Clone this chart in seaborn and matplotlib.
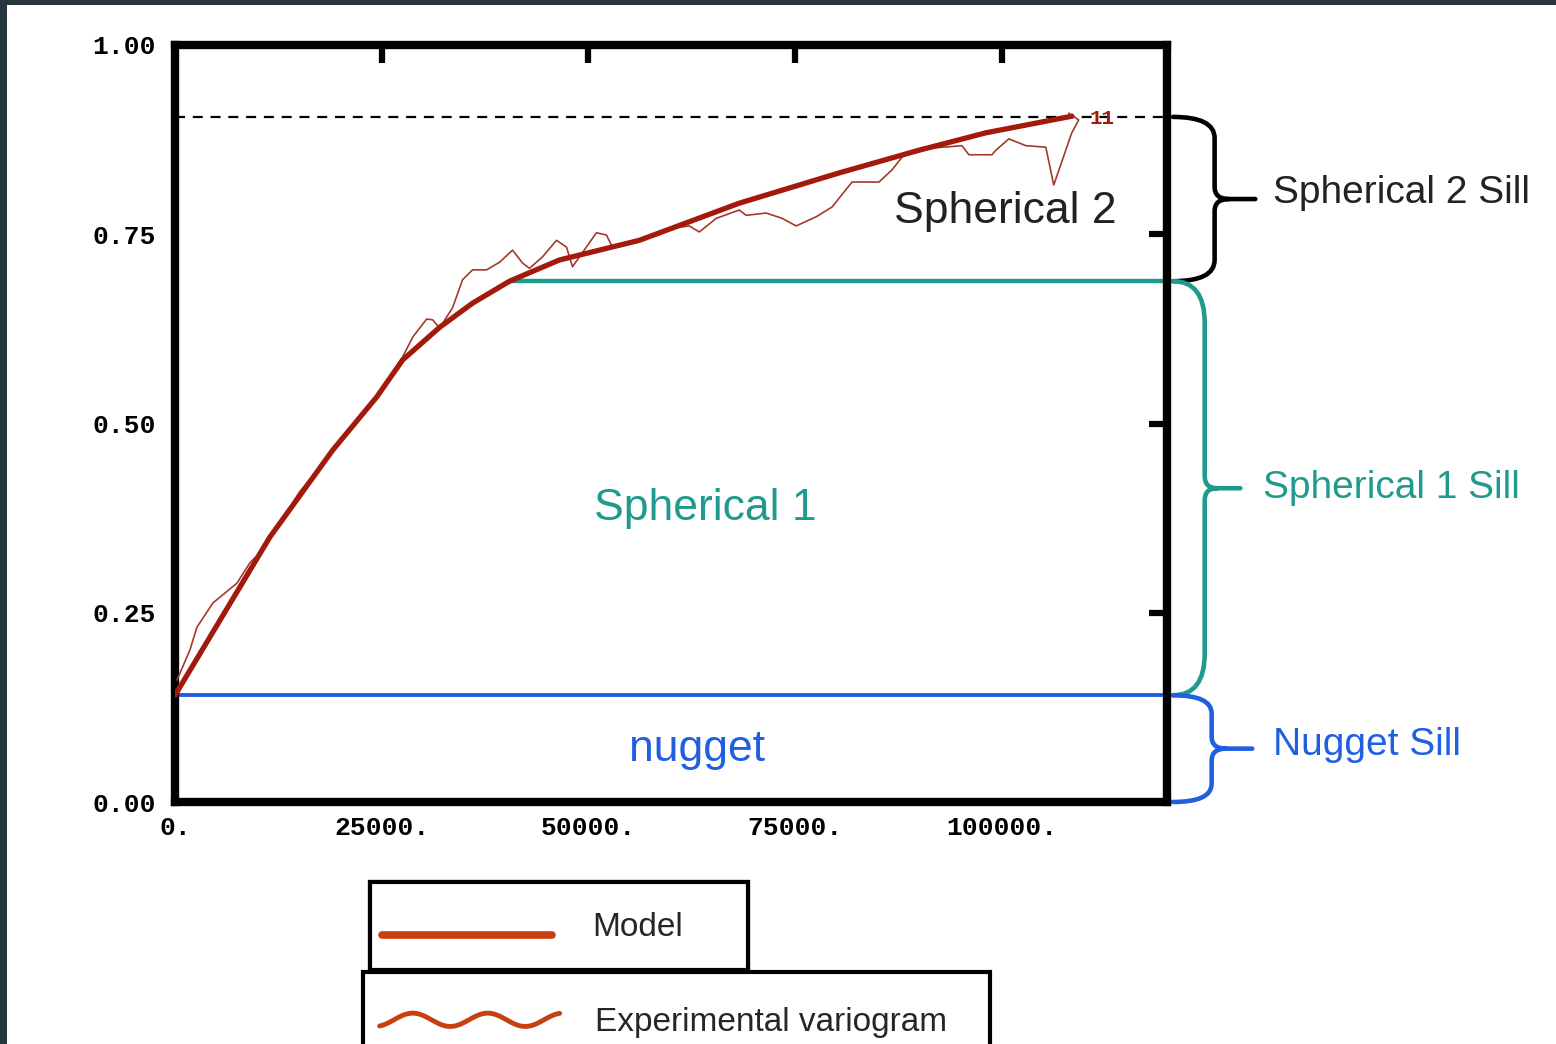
import numpy as np
import pandas as pd
import matplotlib
matplotlib.use("Agg")
import matplotlib.pyplot as plt
import matplotlib.transforms as mtransforms
from matplotlib.path import Path
from matplotlib.patches import PathPatch, Rectangle
from matplotlib.lines import Line2D
from matplotlib.legend_handler import HandlerLine2D
from matplotlib.ticker import FuncFormatter
import seaborn as sns

# model variogram (lag, gamma)
model_lag = [0, 11480, 19090, 24400, 27540, 32010, 36000, 40470, 46500,
             56170, 68250, 80330, 90000, 98090, 108500]
model_gamma = [0.141, 0.350, 0.465, 0.535, 0.584, 0.627, 0.659, 0.688, 0.716,
               0.742, 0.791, 0.831, 0.861, 0.884, 0.906]

# experimental variogram
exp_lag = [240, 1810, 2660, 4590, 7490, 9060, 10630, 15100, 19090, 22950, 25970,
           27540, 28750, 30440, 31170, 32010, 33580, 34790, 36000, 37690, 39260,
           40830, 42040, 42880, 44450, 46150, 47360, 48080, 50980, 52190, 52910,
           56170, 58230, 60160, 62210, 63420, 65470, 68250, 69100, 71510, 73450,
           75140, 77550, 79480, 81900, 85160, 86730, 88180, 91800, 95190, 96040,
           98810, 99300, 100870, 102920, 105340, 106300, 108480, 109320, 108120]
exp_gamma = [0.161, 0.201, 0.231, 0.263, 0.289, 0.316, 0.333, 0.410, 0.462, 0.515, 0.560,
             0.588, 0.614, 0.638, 0.637, 0.626, 0.653, 0.690, 0.703, 0.703, 0.713,
             0.729, 0.712, 0.705, 0.720, 0.742, 0.733, 0.707, 0.752, 0.749, 0.733,
             0.742, 0.748, 0.758, 0.761, 0.753, 0.771, 0.782, 0.775, 0.778, 0.771,
             0.761, 0.773, 0.786, 0.819, 0.819, 0.835, 0.855, 0.864, 0.867, 0.855,
             0.855, 0.861, 0.876, 0.867, 0.865, 0.815, 0.884, 0.901, 0.910]

nugget_sill = 0.141
sph1_sill = 0.688
sph1_range = 40470
total_sill = 0.905
x_max = 120000
x_ticks = [0, 25000, 50000, 75000, 100000]
y_ticks = [0.0, 0.25, 0.5, 0.75, 1.0]

RED = "#a3190c"
EXP_RED = "#a5392b"
TEAL = "#1f9a8c"
BLUE = "#1f5fe0"
LEG_RED = "#c8400f"

sns.set_style("white")
plt.rcParams["font.family"] = ["Liberation Sans", "DejaVu Sans"]

fig = plt.figure(figsize=(15.56, 10.44), dpi=100)
fig.patch.set_facecolor("#25373d")
fig.add_artist(Rectangle((7 / 1556, 0), 1, 1 - 5 / 1044, transform=fig.transFigure,
                         facecolor="white", edgecolor="none", zorder=-10))

ax = fig.add_axes([175 / 1556, 1 - 802 / 1044, 992 / 1556, 757 / 1044])
ax.set_facecolor("white")

df_model = pd.DataFrame({"lag": model_lag, "gamma": model_gamma})
df_exp = pd.DataFrame({"lag": exp_lag, "gamma": exp_gamma})

ax.axhline(total_sill, color="black", lw=1.6, ls=(0, (4.5, 3.5)), zorder=1)
ax.hlines(sph1_sill, sph1_range, x_max, color=TEAL, lw=3.2, zorder=2)
ax.hlines(nugget_sill, 0, x_max, color=BLUE, lw=2.8, zorder=2)
sns.lineplot(data=df_exp, x="lag", y="gamma", ax=ax, color=EXP_RED, lw=1.2,
             sort=False, estimator=None, zorder=3)
sns.lineplot(data=df_model, x="lag", y="gamma", ax=ax, color=RED, lw=3.8,
             sort=False, estimator=None, zorder=4)

ax.set_xlim(0, x_max)
ax.set_ylim(0, 1)
ax.set_xlabel("")
ax.set_ylabel("")
ax.set_xticks(x_ticks)
ax.set_yticks(y_ticks)
ax.xaxis.set_major_formatter(FuncFormatter(lambda v, p: f"{int(v)}."))
ax.yaxis.set_major_formatter(FuncFormatter(lambda v, p: f"{v:.2f}"))
ax.tick_params(direction="in", length=13, width=4.5, top=True, right=True,
               labelsize=19, colors="black")
ax.tick_params(axis="x", pad=10)
ax.tick_params(axis="y", pad=14)
for lab in ax.get_xticklabels() + ax.get_yticklabels():
    lab.set_family(["Liberation Mono", "DejaVu Sans Mono"])
    lab.set_fontweight("bold")
for s in ax.spines.values():
    s.set_linewidth(6)
    s.set_color("black")

ax.text(110600, 0.903, "11", color=RED, fontsize=15, fontweight="bold",
        family=["Liberation Mono", "DejaVu Sans Mono"], va="center", ha="left")

# in-plot labels
ax.text(100400, 0.780, "Spherical 2", color="#222222", fontsize=32, ha="center", va="center")
ax.text(64150, 0.388, "Spherical 1", color=TEAL, fontsize=32, ha="center", va="center")
ax.text(63200, 0.069, "nugget", color=BLUE, fontsize=32, ha="center", va="center")

# braces at the right of the frame
trans = mtransforms.blended_transform_factory(ax.transAxes, ax.transData)


def brace(y_top, y_bot, x0, x1, x_stub, r, color):
    ym = (y_top + y_bot) / 2
    r2 = 0.016
    verts = [(x0, y_top), (x1, y_top), (x1, y_top - r),
             (x1, ym + r2),
             (x1, ym), (x1 + (x_stub - x1) * 0.35, ym),
             (x_stub, ym),
             (x1 + (x_stub - x1) * 0.35, ym), (x1, ym), (x1, ym - r2),
             (x1, y_bot + r),
             (x1, y_bot), (x0, y_bot)]
    codes = [Path.MOVETO, Path.CURVE3, Path.CURVE3,
             Path.LINETO,
             Path.CURVE3, Path.CURVE3,
             Path.LINETO,
             Path.MOVETO, Path.CURVE3, Path.CURVE3,
             Path.LINETO,
             Path.CURVE3, Path.CURVE3]
    ax.add_patch(PathPatch(Path(verts, codes), transform=trans, fill=False,
                           edgecolor=color, lw=3.3, clip_on=False, capstyle="round"))


brace(total_sill, sph1_sill, 1.006, 1.048, 1.089, 0.028, "black")
brace(sph1_sill, nugget_sill, 1.006, 1.038, 1.074, 0.055, TEAL)
brace(nugget_sill, 0.0, 1.006, 1.045, 1.086, 0.024, BLUE)

ax.text(1.107, 0.804, "Spherical 2 Sill", transform=trans, color="#222222",
        fontsize=28, va="center", ha="left")
ax.text(1.097, 0.415, "Spherical 1 Sill", transform=trans, color=TEAL,
        fontsize=28, va="center", ha="left")
ax.text(1.107, 0.075, "Nugget Sill", transform=trans, color=BLUE,
        fontsize=28, va="center", ha="left")


# legend boxes below the plot
class HandlerSample(HandlerLine2D):
    # legend sample line placed at a set height above the text baseline, optionally wavy
    def __init__(self, lift=0.0, wave=0.0, **kw):
        super().__init__(**kw)
        self.lift = lift
        self.wave = wave

    def create_artists(self, legend, orig_handle, xdescent, ydescent, width, height,
                       fontsize, trans):
        t = np.linspace(0, 1, 80)
        xs = -xdescent + width * t
        ys = fontsize * self.lift + fontsize * self.wave * np.sin(2 * np.pi * 2.4 * t - 1.2)
        line = Line2D(xs, ys)
        self.update_prop(line, orig_handle, legend)
        line.set_transform(trans)
        return [line]


model_handle = Line2D([], [], color=LEG_RED, lw=5.5)
leg1 = fig.legend(handles=[model_handle], labels=["Model"],
                  handler_map={model_handle: HandlerSample(lift=0.03)},
                  loc="upper left", bbox_to_anchor=(370 / 1556, 1 - 882 / 1044, 378 / 1556, 0),
                  mode="expand", fontsize=24, handlelength=5.1, handletextpad=1.2,
                  handleheight=2.58, borderpad=0.36, borderaxespad=0, fancybox=False,
                  framealpha=1, edgecolor="black")
leg1.get_frame().set_linewidth(3)

wave = Line2D([], [], color=LEG_RED, lw=3.5)
leg2 = fig.legend(handles=[wave], labels=["Experimental variogram"],
                  handler_map={wave: HandlerSample(lift=0.33, wave=0.2)},
                  loc="upper left", bbox_to_anchor=(363 / 1556, 1 - 972 / 1044, 627 / 1556, 0),
                  mode="expand", fontsize=24, handlelength=5.4, handletextpad=1.05,
                  handleheight=2.58, borderpad=0.5, borderaxespad=0, fancybox=False,
                  framealpha=1, edgecolor="black")
leg2.get_frame().set_linewidth(3)
fig.add_artist(leg1)

fig.savefig("out.png", dpi=100, facecolor=fig.get_facecolor())
